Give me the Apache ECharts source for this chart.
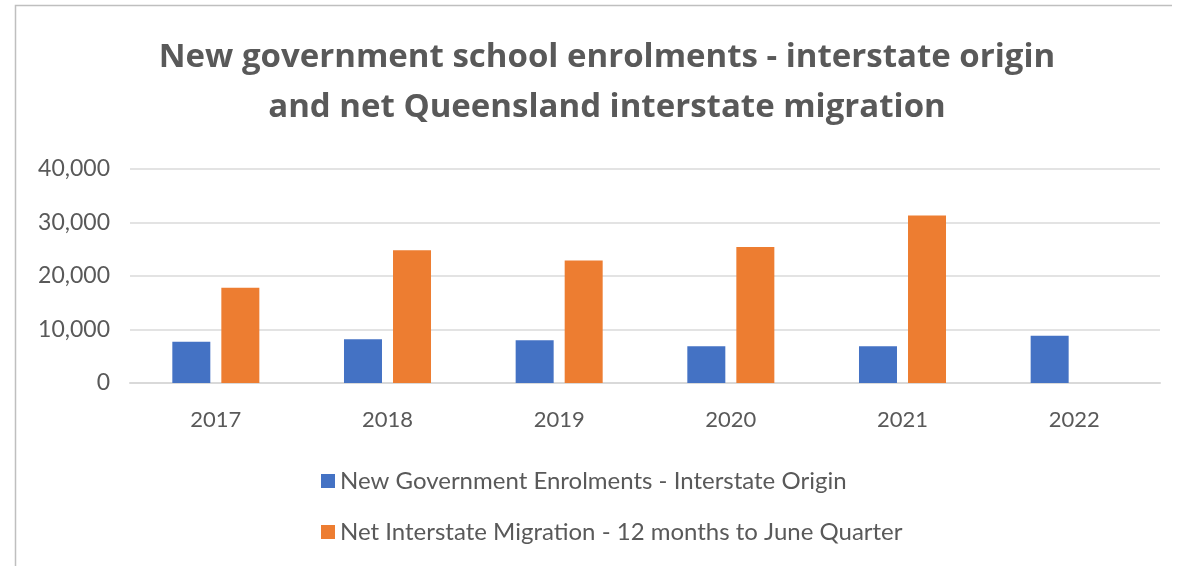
<!DOCTYPE html>
<html>
<head>
<meta charset="utf-8">
<script src="https://cdn.jsdelivr.net/npm/echarts@6/dist/echarts.min.js"></script>
<style>
  html, body { margin: 0; padding: 0; background: #ffffff; }
  #chart { width: 1178px; height: 566px; }
</style>
</head>
<body>
<div id="chart"></div>
<script>
// School years shown on the category axis
const years = ['2017', '2018', '2019', '2020', '2021', '2022'];

// New government school enrolments with an interstate origin
const enrolments = [7700, 8200, 8000, 6850, 6850, 8850];

// Net Queensland interstate migration, 12 months to June quarter (no 2022 figure)
const migration = [17800, 24800, 22900, 25400, 31300, null];

const seriesNames = [
  'New Government Enrolments - Interstate Origin',
  'Net Interstate Migration - 12 months to June Quarter'
];

const titleLines = [
  'New government school enrolments - interstate origin',
  'and net Queensland interstate migration'
];

const textGrey = '#595959';
const fontFamily = 'Lato, "Open Sans", sans-serif';

const chart = echarts.init(document.getElementById('chart'));

chart.setOption({
  animation: false,
  backgroundColor: '#ffffff',
  textStyle: { fontFamily: fontFamily },
  graphic: [
    // chart frame: left and top edges
    {
      type: 'polyline',
      shape: { points: [[15.5, 566], [15.5, 5.5], [1172, 5.5]] },
      style: { stroke: '#bfbfbf', lineWidth: 1.5, fill: null }
    }
  ],
  title: {
    text: titleLines.join('\n'),
    left: 602,
    top: 28,
    textAlign: 'center',
    textStyle: {
      color: textGrey,
      fontFamily: '"Open Sans", Lato, sans-serif',
      fontWeight: 'bold',
      fontSize: 33,
      lineHeight: 50
    }
  },
  legend: {
    orient: 'vertical',
    left: 316,
    top: 464,
    itemWidth: 14,
    itemHeight: 14,
    itemGap: 27,
    icon: 'rect',
    textStyle: { color: textGrey, fontSize: 24, fontFamily: fontFamily },
    data: seriesNames
  },
  grid: {
    left: 130,
    right: 18,
    top: 169,
    bottom: 183,
    containLabel: false
  },
  xAxis: {
    type: 'category',
    data: years,
    axisLine: { show: true, lineStyle: { color: '#d9d9d9', width: 2 } },
    axisTick: { show: false },
    axisLabel: { color: textGrey, fontSize: 22, margin: 26 }
  },
  yAxis: {
    type: 'value',
    min: 0,
    max: 40000,
    interval: 10000,
    axisLine: { show: false },
    axisTick: { show: false },
    axisLabel: {
      color: textGrey,
      fontSize: 23,
      margin: 20,
      formatter: (v) => v.toLocaleString('en-US')
    },
    splitLine: { lineStyle: { color: '#e3e3e3', width: 2 } }
  },
  series: [
    {
      name: seriesNames[0],
      type: 'bar',
      data: enrolments,
      barWidth: 38,
      barGap: '29%',
      itemStyle: { color: '#4472c4' }
    },
    {
      name: seriesNames[1],
      type: 'bar',
      data: migration,
      barWidth: 38,
      itemStyle: { color: '#ed7d31' }
    }
  ]
});
</script>
</body>
</html>
